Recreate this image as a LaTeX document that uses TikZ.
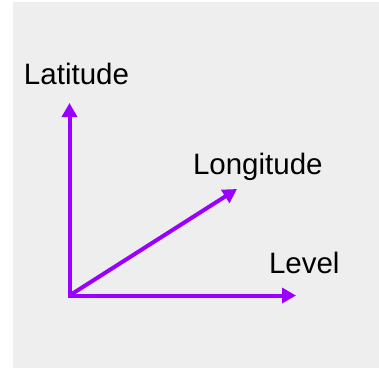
\documentclass[tikz,border=0pt]{standalone}
\usepackage{fontspec}
\setmainfont{Liberation Sans}
\usetikzlibrary{arrows.meta}
\definecolor{bg}{HTML}{EEEEEE}
\definecolor{axis}{HTML}{9900FF}
\begin{document}
\begin{tikzpicture}[x=1bp,y=-1bp,
  axisline/.style={draw=axis,line width=4bp,-{Triangle[length=14bp,width=15bp]}},
  lbl/.style={inner sep=0pt,anchor=base west,font=\fontsize{29.5bp}{31bp}\selectfont}]
\useasboundingbox (0,0) rectangle (379,368);
\fill[bg] (13,2) rectangle (379,368);
\coordinate (o) at (69.5,295.5);
\coordinate (lat) at (69.5,103);
\coordinate (lon) at (237,189);
\coordinate (lev) at (296,295.5);
\draw[axisline] (o) -- (lat);
\draw[axisline] (o) -- (lon);
\draw[axisline] ([xshift=-2bp]o) -- (lev);
\node[lbl] (tlat) at (23.8,84.3) {Latitude};
\node[lbl] (tlon) at (192.8,174.3) {Longitude};
\node[lbl] (tlev) at (268.8,273.3) {Level};
\end{tikzpicture}
\end{document}
